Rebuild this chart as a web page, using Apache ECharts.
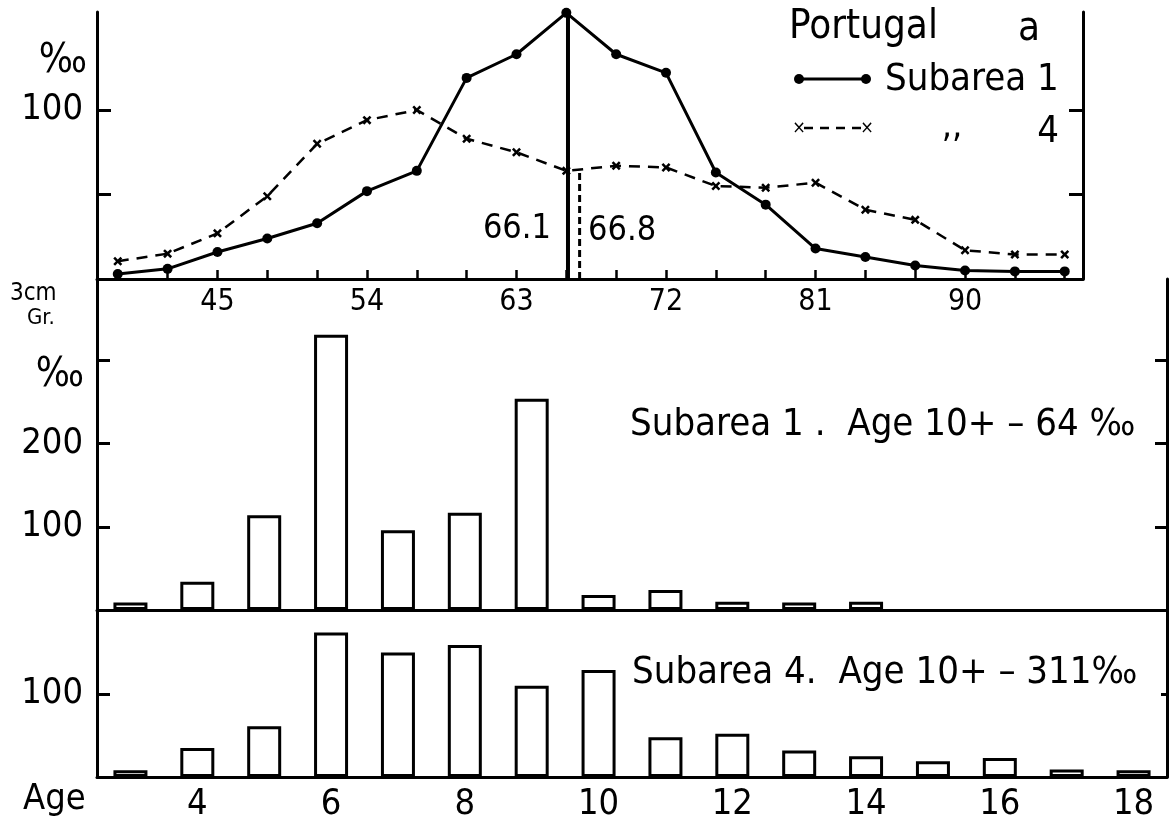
<!DOCTYPE html>
<html>
<head>
<meta charset="utf-8">
<title>Portugal a</title>
<script src="https://cdn.jsdelivr.net/npm/echarts@6/dist/echarts.min.js"></script>
<style>
html, body { margin: 0; padding: 0; background: #fff; }
#chart { width: 1175px; height: 823px; }
</style>
</head>
<body>
<div id="chart"></div>
<script>
// length distribution, 3 cm groups (per mille)
var lengthGroups = [39, 42, 45, 48, 51, 54, 57, 60, 63, 66, 69, 72, 75, 78, 81, 84, 87, 90, 93, 96];
var sub1Length = [3, 6, 16, 24, 33, 52, 64, 119, 133, 157.5, 133, 122, 63, 44, 18, 13, 8, 5, 4.5, 4.5];
var sub4Length = [10.5, 15, 27, 49, 80, 94, 100, 83, 75, 64, 67, 66, 55, 54, 57, 41, 35, 17, 14.5, 14.5];
var meanLengths = [66.1, 66.8];
var meanTops = [157.5, 63];
var lengthTicks = [39, 42, 45, 48, 51, 54, 57, 60, 63, 66, 69, 72, 75, 78, 81, 84, 87, 90, 93, 96];
var lengthLabels = [45, 54, 63, 72, 81, 90];

// age composition (per mille)
var ages = ['3', '4', '5', '6', '7', '8', '9', '10', '11', '12', '13', '14', '15', '16', '17', '18'];
var sub1Age = [9, 34, 114, 331, 96, 117, 254, 18, 24, 10, 9, 10, null, null, null, null];
var sub4Age = [8, 35, 61, 174, 150, 159, 110, 129, 48, 52, 32, 25, 19, 23, 9, 8];
var ageLabels = ['4', '6', '8', '10', '12', '14', '16', '18'];

var FONT = "'DejaVu Sans Condensed', 'DejaVu Sans', sans-serif";
var INK = '#000';
var CROSS = 'path://M2,0 L5,3 L8,0 L10,2 L7,5 L10,8 L8,10 L5,7 L2,10 L0,8 L3,5 L0,2 Z';

const myChart = echarts.init(document.getElementById('chart'));

function yAxis(grid, pos, max, ticks, labels, tickLen) {
    return {
        type: 'value',
        gridIndex: grid,
        position: pos,
        min: 0,
        max: max,
        splitLine: { show: false },
        axisLine: { show: true, lineStyle: { color: INK, width: 3 } },
        axisTick: {
            show: true, inside: true, length: tickLen, customValues: ticks,
            lineStyle: { color: INK, width: 3 }
        },
        axisLabel: {
            show: labels.length > 0, customValues: labels, margin: 14,
            color: INK, fontFamily: FONT, fontSize: 36
        }
    };
}

function ageAxis(grid, showLabels) {
    return {
        type: 'category',
        gridIndex: grid,
        data: ages,
        boundaryGap: true,
        axisLine: { show: true, lineStyle: { color: INK, width: 3 } },
        axisTick: { show: false },
        axisLabel: {
            show: showLabels,
            interval: function (index, value) { return ageLabels.indexOf(value) >= 0; },
            color: INK, fontFamily: FONT, fontSize: 36, margin: 10
        }
    };
}

function txt(x, y, text, size, align) {
    return {
        type: 'text', x: x, y: y,
        style: {
            text: text, fill: INK, font: size + 'px ' + FONT,
            textAlign: align || 'left', textVerticalAlign: 'middle'
        }
    };
}

var lenData1 = lengthGroups.map(function (g, i) { return [g, sub1Length[i]]; });
var lenData4 = lengthGroups.map(function (g, i) { return [g, sub4Length[i]]; });

const option = {
    backgroundColor: '#fff',
    animation: false,
    grid: [
        { left: 97, width: 986, top: 12, height: 267 },
        { left: 97, width: 1070, top: 279, height: 331 },
        { left: 97, width: 1070, top: 611, height: 168 }
    ],
    xAxis: [
        {
            type: 'value',
            gridIndex: 0,
            min: 37.75,
            max: 97.1,
            splitLine: { show: false },
            axisLine: { show: true, lineStyle: { color: INK, width: 3 } },
            axisTick: {
                show: true, inside: true, length: 9, customValues: lengthTicks,
                lineStyle: { color: INK, width: 2.5 }
            },
            axisLabel: {
                customValues: lengthLabels, margin: 8,
                color: INK, fontFamily: FONT, fontSize: 30
            }
        },
        ageAxis(1, false),
        ageAxis(2, true)
    ],
    yAxis: [
        yAxis(0, 'left', 158, [50, 100], [100], 14),
        yAxis(0, 'right', 158, [50, 100], [], 14),
        yAxis(1, 'left', 398, [100, 200, 300], [100, 200], 13),
        yAxis(1, 'right', 398, [100, 200, 300], [], 12),
        yAxis(2, 'left', 200, [100], [100], 13),
        yAxis(2, 'right', 200, [100], [], 6)
    ],
    series: [
        {
            name: 'Subarea 1',
            type: 'line',
            xAxisIndex: 0, yAxisIndex: 0,
            data: lenData1,
            symbol: 'circle',
            symbolSize: 10,
            itemStyle: { color: INK },
            lineStyle: { color: INK, width: 3 },
            z: 3
        },
        {
            name: 'Subarea 4',
            type: 'line',
            xAxisIndex: 0, yAxisIndex: 0,
            data: lenData4,
            symbol: CROSS,
            symbolSize: 9,
            itemStyle: { color: INK },
            lineStyle: { color: INK, width: 2.5, type: [11, 8] },
            z: 3
        },
        {
            name: 'mean 1',
            type: 'line',
            xAxisIndex: 0, yAxisIndex: 0,
            data: [[meanLengths[0], 0], [meanLengths[0], meanTops[0]]],
            symbol: 'none',
            lineStyle: { color: INK, width: 4 }
        },
        {
            name: 'mean 4',
            type: 'line',
            xAxisIndex: 0, yAxisIndex: 0,
            data: [[meanLengths[1], 0], [meanLengths[1], meanTops[1]]],
            symbol: 'none',
            lineStyle: { color: INK, width: 3, type: [7, 4] }
        },
        {
            name: 'Subarea 1 age',
            type: 'bar',
            xAxisIndex: 1, yAxisIndex: 2,
            data: sub1Age,
            barWidth: 34,
            itemStyle: { color: '#fff', borderColor: INK, borderWidth: 3 }
        },
        {
            name: 'Subarea 4 age',
            type: 'bar',
            xAxisIndex: 2, yAxisIndex: 4,
            data: sub4Age,
            barWidth: 34,
            itemStyle: { color: '#fff', borderColor: INK, borderWidth: 3 }
        }
    ],
    graphic: [
        txt(63, 62, '‰', 40, 'center'),
        txt(60, 376, '‰', 40, 'center'),
        txt(10, 294, '3cm', 24),
        txt(27, 318, 'Gr.', 22),
        txt(551, 229, '66.1', 34, 'right'),
        txt(588, 231, '66.8', 34),
        txt(789, 28, 'Portugal', 40),
        txt(1029, 30, 'a', 40, 'center'),
        { type: 'line', shape: { x1: 799, y1: 79, x2: 866, y2: 79 }, style: { stroke: INK, lineWidth: 3 } },
        { type: 'circle', shape: { cx: 799, cy: 79, r: 5 }, style: { fill: INK } },
        { type: 'circle', shape: { cx: 866, cy: 79, r: 5 }, style: { fill: INK } },
        txt(885, 80, 'Subarea 1', 38),
        { type: 'line', shape: { x1: 804, y1: 128, x2: 862, y2: 128 }, style: { stroke: INK, lineWidth: 2.5, lineDash: [9, 7] } },
        txt(799, 128, '×', 18, 'center'),
        txt(867, 128, '×', 18, 'center'),
        txt(952, 128, ',,', 36, 'center'),
        txt(1048, 132, '4', 38, 'center'),
        txt(630, 425, 'Subarea 1 .  Age 10+ – 64 ‰', 38),
        txt(632, 673, 'Subarea 4.  Age 10+ – 311‰', 38),
        txt(23, 800, 'Age', 36)
    ]
};
myChart.setOption(option);
</script>
</body>
</html>
